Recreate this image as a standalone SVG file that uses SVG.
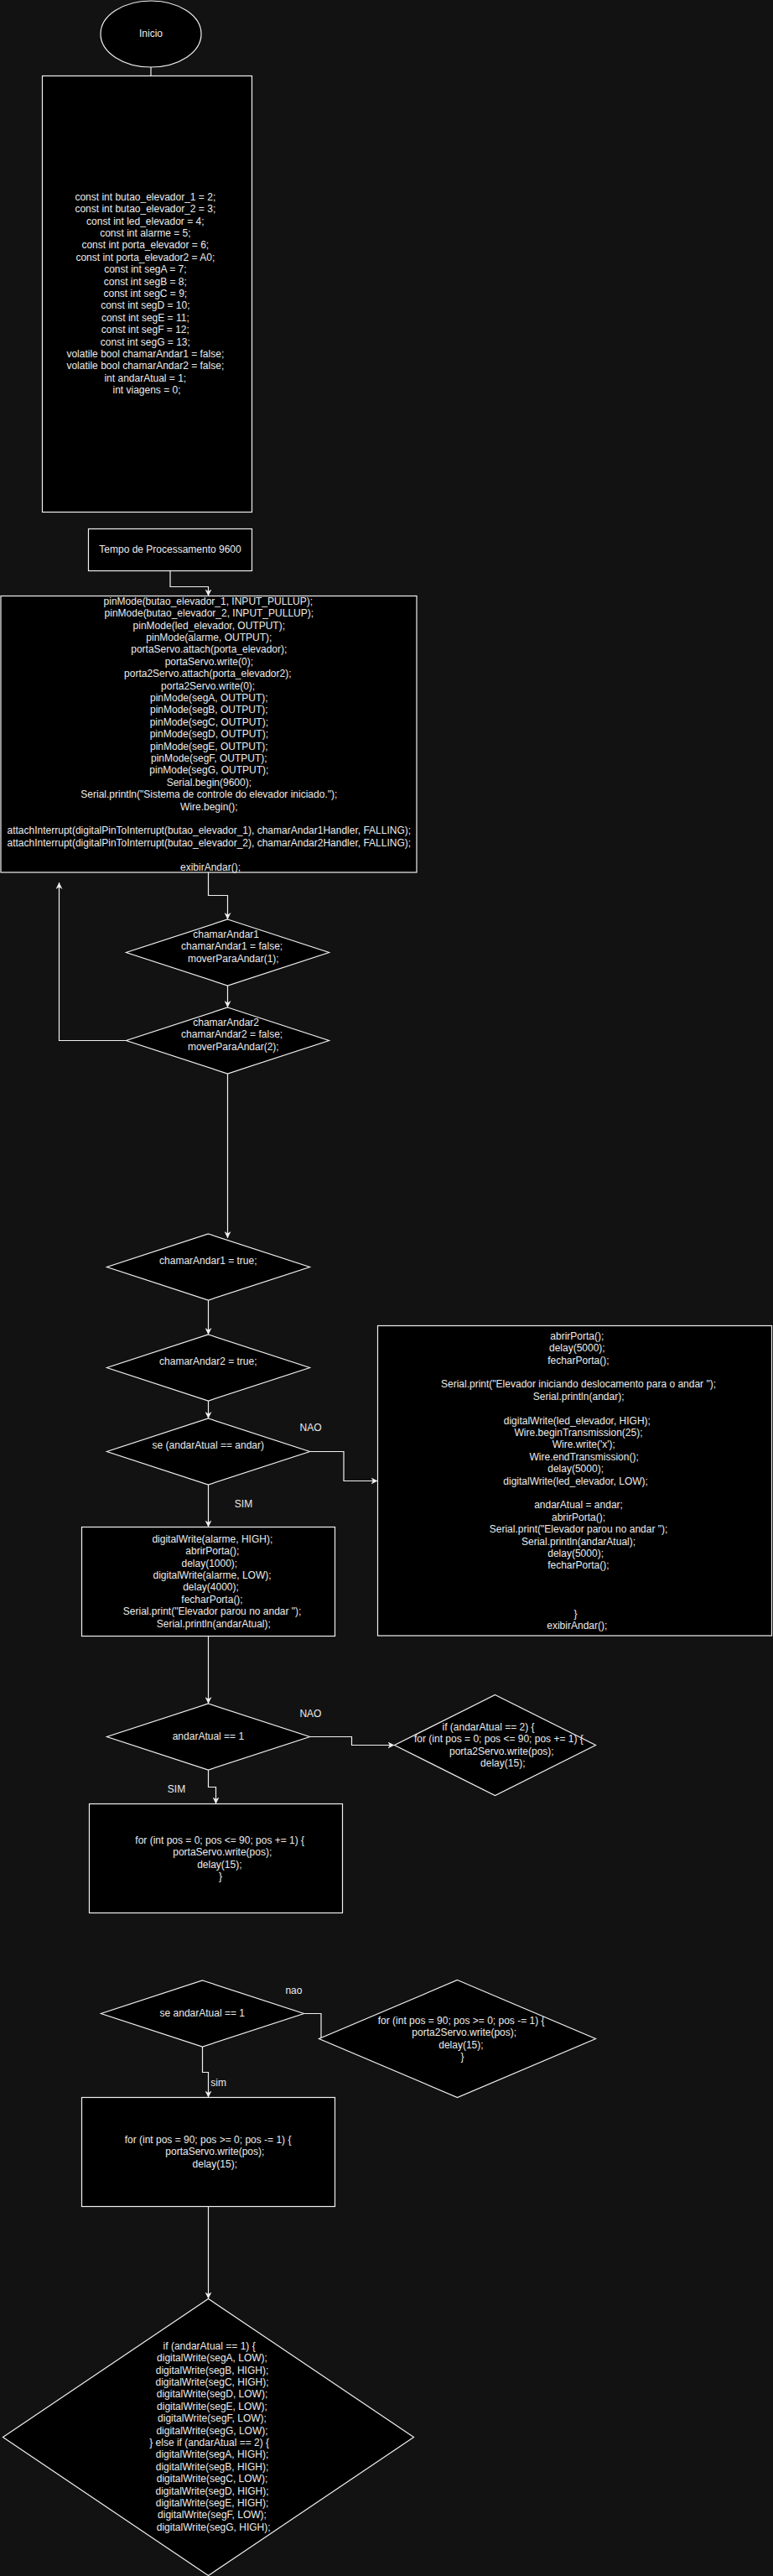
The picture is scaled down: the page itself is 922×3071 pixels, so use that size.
<svg xmlns="http://www.w3.org/2000/svg" width="922" height="3071" viewBox="0 0 922 3071">
<style>
.n{fill:#000;stroke:#f0f0f0;stroke-width:1.2}
.t{font-family:"Liberation Sans",Arial,Helvetica,sans-serif;font-size:12px;fill:#ececec;text-anchor:middle}
.e{fill:none;stroke:#f0f0f0;stroke-width:1.2}
</style>
<defs>
<marker id="arr" viewBox="0 0 10 10" refX="10" refY="5" markerWidth="8" markerHeight="8" orient="auto" markerUnits="userSpaceOnUse">
<path d="M0,0 L10,5 L0,10 L3,5 Z" fill="#f0f0f0"/>
</marker>
</defs>
<rect x="0" y="0" width="922" height="3071" fill="#121212"/>

<g id="connectors">
<path class="e" d="M180,80 L180,90"/>
<path class="e" d="M203,680.5 L203,699.5 L248.5,699.5 L248.5,710.5" marker-end="url(#arr)"/>
<path class="e" d="M248.5,1040 L248.5,1067.5 L271.5,1067.5 L271.5,1096" marker-end="url(#arr)"/>
<path class="e" d="M271.5,1175 L271.5,1201" marker-end="url(#arr)"/>
<path class="e" d="M150.5,1240.5 L70.5,1240.5 L70.5,1052" marker-end="url(#arr)"/>
<path class="e" d="M271.5,1280 L271.5,1476" marker-end="url(#arr)"/>
<path class="e" d="M248.5,1550 L248.5,1591" marker-end="url(#arr)"/>
<path class="e" d="M248.5,1670 L248.5,1691" marker-end="url(#arr)"/>
<path class="e" d="M369.5,1730.5 L410,1730.5 L410,1765.5 L450.5,1765.5" marker-end="url(#arr)"/>
<path class="e" d="M248.5,1770 L248.5,1820.5" marker-end="url(#arr)"/>
<path class="e" d="M248.5,1950.5 L248.5,2031" marker-end="url(#arr)"/>
<path class="e" d="M369.5,2070.5 L419.5,2070.5 L419.5,2080.5 L470.5,2080.5" marker-end="url(#arr)"/>
<path class="e" d="M248.5,2110 L248.5,2130.5 L257.5,2130.5 L257.5,2150.5" marker-end="url(#arr)"/>
<path class="e" d="M362.5,2400.5 L383,2400.5 L383,2430.5"/>
<path class="e" d="M241.5,2440 L241.5,2470.5 L248.5,2470.5 L248.5,2500.5" marker-end="url(#arr)"/>
<path class="e" d="M248.5,2630.5 L248.5,2740.5" marker-end="url(#arr)"/>
</g>

<g id="inicio">
<ellipse class="n" cx="180" cy="40.5" rx="60" ry="39.5"/>
<text class="t" x="180" y="44">Inicio</text>
</g>

<g id="constantes">
<rect class="n" x="50.5" y="90.5" width="250" height="520"/>
<text class="t">
<tspan x="175" y="238.8">const int butao_elevador_1 = 2;</tspan>
<tspan x="175" y="253.2">const int butao_elevador_2 = 3;</tspan>
<tspan x="175" y="267.6">const int led_elevador = 4;</tspan>
<tspan x="175" y="282">const int alarme = 5;</tspan>
<tspan x="175" y="296.4">const int porta_elevador = 6;</tspan>
<tspan x="175" y="310.8">const int porta_elevador2 = A0;</tspan>
<tspan x="175" y="325.2">const int segA = 7;</tspan>
<tspan x="175" y="339.6">const int segB = 8;</tspan>
<tspan x="175" y="354">const int segC = 9;</tspan>
<tspan x="175" y="368.4">const int segD = 10;</tspan>
<tspan x="175" y="382.8">const int segE = 11;</tspan>
<tspan x="175" y="397.2">const int segF = 12;</tspan>
<tspan x="175" y="411.6">const int segG = 13;</tspan>
<tspan x="175" y="426">volatile bool chamarAndar1 = false;</tspan>
<tspan x="175" y="440.4">volatile bool chamarAndar2 = false;</tspan>
<tspan x="175" y="454.8">int andarAtual = 1;</tspan>
<tspan x="175" y="469.2">int viagens = 0;</tspan>
</text>
</g>

<g id="tempo">
<rect class="n" x="105.5" y="630.5" width="195" height="50"/>
<text class="t" x="203" y="658.5">Tempo de Processamento 9600</text>
</g>

<g id="setup">
<rect class="n" x="1" y="710.5" width="496" height="329.5"/>
<text class="t">
<tspan x="250" y="720.7">pinMode(butao_elevador_1, INPUT_PULLUP);</tspan>
<tspan x="251" y="735.1">pinMode(butao_elevador_2, INPUT_PULLUP);</tspan>
<tspan x="251" y="749.5">pinMode(led_elevador, OUTPUT);</tspan>
<tspan x="251" y="763.9">pinMode(alarme, OUTPUT);</tspan>
<tspan x="251" y="778.3">portaServo.attach(porta_elevador);</tspan>
<tspan x="251" y="792.7">portaServo.write(0);</tspan>
<tspan x="249.5" y="807.1">porta2Servo.attach(porta_elevador2);</tspan>
<tspan x="249.8" y="821.5">porta2Servo.write(0);</tspan>
<tspan x="251" y="835.9">pinMode(segA, OUTPUT);</tspan>
<tspan x="251" y="850.3">pinMode(segB, OUTPUT);</tspan>
<tspan x="251" y="864.7">pinMode(segC, OUTPUT);</tspan>
<tspan x="251" y="879.1">pinMode(segD, OUTPUT);</tspan>
<tspan x="251" y="893.5">pinMode(segE, OUTPUT);</tspan>
<tspan x="251" y="907.9">pinMode(segF, OUTPUT);</tspan>
<tspan x="251" y="922.3">pinMode(segG, OUTPUT);</tspan>
<tspan x="251" y="936.7">Serial.begin(9600);</tspan>
<tspan x="251" y="951.1">Serial.println("Sistema de controle do elevador iniciado.");</tspan>
<tspan x="251" y="965.5">Wire.begin();</tspan>
<tspan x="251" y="994.3">attachInterrupt(digitalPinToInterrupt(butao_elevador_1), chamarAndar1Handler, FALLING);</tspan>
<tspan x="251" y="1008.7">attachInterrupt(digitalPinToInterrupt(butao_elevador_2), chamarAndar2Handler, FALLING);</tspan>
<tspan x="251" y="1037.5">exibirAndar();</tspan>
</text>
</g>

<g id="chamar1">
<polygon class="n" points="271.5,1096 392.5,1135.5 271.5,1175 150.5,1135.5"/>
<text class="t">
<tspan x="271.3" y="1118">chamarAndar1</tspan>
<tspan x="278.3" y="1132.4">chamarAndar1 = false;</tspan>
<tspan x="278.3" y="1146.8">moverParaAndar(1);</tspan>
</text>
</g>

<g id="chamar2">
<polygon class="n" points="271.5,1201 392.5,1240.5 271.5,1280 150.5,1240.5"/>
<text class="t">
<tspan x="271.3" y="1223">chamarAndar2</tspan>
<tspan x="278.3" y="1237.4">chamarAndar2 = false;</tspan>
<tspan x="278.3" y="1251.8">moverParaAndar(2);</tspan>
</text>
</g>

<g id="andar1true">
<polygon class="n" points="248.5,1471 369.5,1510.5 248.5,1550 127.5,1510.5"/>
<text class="t" x="248.3" y="1506.7">chamarAndar1 = true;</text>
</g>

<g id="andar2true">
<polygon class="n" points="248.5,1591 369.5,1630.5 248.5,1670 127.5,1630.5"/>
<text class="t" x="248.3" y="1626.7">chamarAndar2 = true;</text>
</g>

<g id="seAndar">
<polygon class="n" points="248.5,1691 369.5,1730.5 248.5,1770 127.5,1730.5"/>
<text class="t" x="248.3" y="1726.7">se (andarAtual == andar)</text>
</g>

<g id="labels">
<text class="t" x="370.5" y="1706.3">NAO</text>
<text class="t" x="290.5" y="1796.7">SIM</text>
<text class="t" x="370.4" y="2046.7">NAO</text>
<text class="t" x="210.5" y="2136.7">SIM</text>
<text class="t" x="350.4" y="2376.7">nao</text>
<text class="t" x="260.6" y="2487.3">sim</text>
</g>

<g id="mover">
<rect class="n" x="450.5" y="1580.5" width="470" height="369.5"/>
<text class="t">
<tspan x="690" y="1596.7">abrirPorta();</tspan>
<tspan x="690" y="1611.1">delay(5000);</tspan>
<tspan x="691.5" y="1625.5">fecharPorta();</tspan>
<tspan x="691.7" y="1654.3">Serial.print("Elevador iniciando deslocamento para o andar ");</tspan>
<tspan x="691.8" y="1668.7">Serial.println(andar);</tspan>
<tspan x="690" y="1697.5">digitalWrite(led_elevador, HIGH);</tspan>
<tspan x="691.7" y="1711.9">Wire.beginTransmission(25);</tspan>
<tspan x="698" y="1726.3">Wire.write('x');</tspan>
<tspan x="698.3" y="1740.7">Wire.endTransmission();</tspan>
<tspan x="688.3" y="1755.1">delay(5000);</tspan>
<tspan x="688.3" y="1769.5">digitalWrite(led_elevador, LOW);</tspan>
<tspan x="691.7" y="1798.3">andarAtual = andar;</tspan>
<tspan x="691.7" y="1812.7">abrirPorta();</tspan>
<tspan x="691.7" y="1827.1">Serial.print("Elevador parou no andar ");</tspan>
<tspan x="691.7" y="1841.5">Serial.println(andarAtual);</tspan>
<tspan x="688.3" y="1855.9">delay(5000);</tspan>
<tspan x="691.5" y="1870.3">fecharPorta();</tspan>
<tspan x="688.3" y="1927.9">}</tspan>
<tspan x="688.3" y="1942.3">exibirAndar();</tspan>
</text>
</g>

<g id="alarme">
<rect class="n" x="97.5" y="1820.5" width="302" height="130"/>
<text class="t">
<tspan x="255" y="1838.7">digitalWrite(alarme, HIGH);</tspan>
<tspan x="255" y="1853.1">abrirPorta();</tspan>
<tspan x="251.5" y="1867.5">delay(1000);</tspan>
<tspan x="254.7" y="1881.9">digitalWrite(alarme, LOW);</tspan>
<tspan x="253.2" y="1896.3">delay(4000);</tspan>
<tspan x="254.7" y="1910.7">fecharPorta();</tspan>
<tspan x="254.8" y="1925.1">Serial.print("Elevador parou no andar ");</tspan>
<tspan x="254.8" y="1939.5">Serial.println(andarAtual);</tspan>
</text>
</g>

<g id="andarAtual1">
<polygon class="n" points="248.5,2031 369.5,2070.5 248.5,2110 127.5,2070.5"/>
<text class="t" x="248.4" y="2074">andarAtual == 1</text>
</g>

<g id="andarAtual2">
<polygon class="n" points="590.5,2020.5 710.5,2080.5 590.5,2140.5 470.5,2080.5"/>
<text class="t">
<tspan x="584.2" y="2063">if (andarAtual == 2) {</tspan>
<tspan x="596.6" y="2077.4">for (int pos = 0; pos &lt;= 90; pos += 1) {</tspan>
<tspan x="600" y="2091.8">porta2Servo.write(pos);</tspan>
<tspan x="599.8" y="2106.2">delay(15);</tspan>
</text>
</g>

<g id="abrir1">
<rect class="n" x="106.5" y="2150.5" width="302" height="130"/>
<text class="t">
<tspan x="263.9" y="2197.7">for (int pos = 0; pos &lt;= 90; pos += 1) {</tspan>
<tspan x="266.9" y="2212.1">portaServo.write(pos);</tspan>
<tspan x="263.5" y="2226.5">delay(15);</tspan>
<tspan x="263" y="2240.9">}</tspan>
</text>
</g>

<g id="seAndarAtual1">
<polygon class="n" points="241.5,2361 362.5,2400.5 241.5,2440 120.5,2400.5"/>
<text class="t" x="241.3" y="2404">se andarAtual == 1</text>
</g>

<g id="fechar2">
<polygon class="n" points="545.5,2360.5 710.5,2430.5 545.5,2500.5 380.5,2430.5"/>
<text class="t">
<tspan x="551.8" y="2413">for (int pos = 90; pos &gt;= 0; pos -= 1) {</tspan>
<tspan x="555.4" y="2427.4">porta2Servo.write(pos);</tspan>
<tspan x="551.6" y="2441.8">delay(15);</tspan>
<tspan x="551.4" y="2456.2">}</tspan>
</text>
</g>

<g id="fechar1">
<rect class="n" x="97.5" y="2500.5" width="302" height="130"/>
<text class="t">
<tspan x="249.7" y="2555">for (int pos = 90; pos &gt;= 0; pos -= 1) {</tspan>
<tspan x="258" y="2569.4">portaServo.write(pos);</tspan>
<tspan x="256.3" y="2583.8">delay(15);</tspan>
</text>
</g>

<g id="exibirAndar">
<polygon class="n" points="248.5,2740.5 493.5,2905.5 248.5,3070.5 3.5,2905.5"/>
<text class="t">
<tspan x="251.3" y="2800.7">if (andarAtual == 1) {</tspan>
<tspan x="254.7" y="2815.1">digitalWrite(segA, LOW);</tspan>
<tspan x="254.7" y="2829.5">digitalWrite(segB, HIGH);</tspan>
<tspan x="254.7" y="2843.9">digitalWrite(segC, HIGH);</tspan>
<tspan x="254.7" y="2858.3">digitalWrite(segD, LOW);</tspan>
<tspan x="254.7" y="2872.7">digitalWrite(segE, LOW);</tspan>
<tspan x="254.7" y="2887.1">digitalWrite(segF, LOW);</tspan>
<tspan x="254.7" y="2901.5">digitalWrite(segG, LOW);</tspan>
<tspan x="251.3" y="2915.9">} else if (andarAtual == 2) {</tspan>
<tspan x="254.7" y="2930.3">digitalWrite(segA, HIGH);</tspan>
<tspan x="254.7" y="2944.7">digitalWrite(segB, HIGH);</tspan>
<tspan x="254.7" y="2959.1">digitalWrite(segC, LOW);</tspan>
<tspan x="254.7" y="2973.5">digitalWrite(segD, HIGH);</tspan>
<tspan x="254.7" y="2987.9">digitalWrite(segE, HIGH);</tspan>
<tspan x="254.7" y="3002.3">digitalWrite(segF, LOW);</tspan>
<tspan x="254.7" y="3016.7">digitalWrite(segG, HIGH);</tspan>
</text>
</g>
</svg>
